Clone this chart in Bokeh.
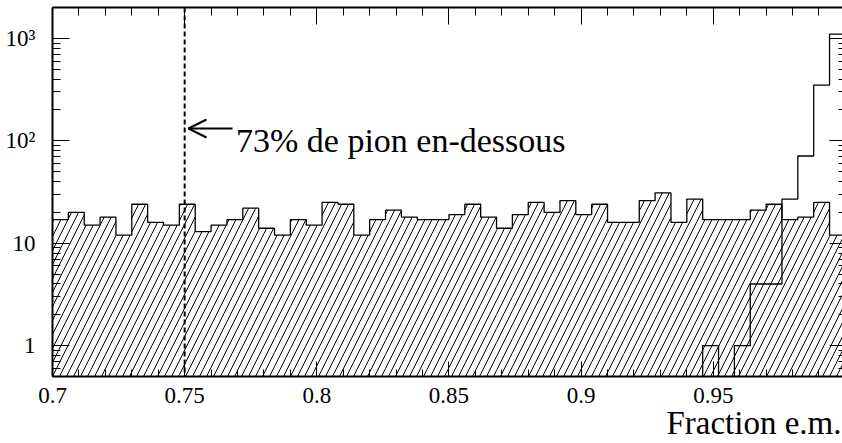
import numpy as np
from bokeh.plotting import figure
from bokeh.models import (LinearAxis, LogAxis, LogTicker, SingleIntervalTicker, Span,
                          Arrow, OpenHead, Label, NumeralTickFormatter, Range1d,
                          CustomJSTickFormatter, Title)
from bokeh.embed import file_html
from bokeh.resources import INLINE

# Binning: 50 bins of width 0.006 covering [0.7, 1.0]
bin_lo = 0.7
bin_width = 0.006
n_bins = 50

# Pion sample (hatched)
pion_counts = [17, 20, 15, 18, 12, 24, 16, 15, 24, 13,
               15, 17, 22, 14, 12, 17, 15, 25, 24, 12,
               17, 21, 18, 17, 17, 19, 24, 18, 14, 19,
               25, 20, 26, 19, 24, 16, 16, 26, 31, 16,
               27, 17, 17, 17, 21, 24, 17, 18, 25, 12]

# Electron sample (open outline)
electron_counts = [0] * 41 + [1, 0, 1, 4, 4, 27, 71, 350, 1100]

cut_value = 0.75
cut_text = "73% de pion en-dessous"
x_title = "Fraction e.m."
y_tick_labels = {1: "1", 10: "10", 100: "10\u00b2", 1000: "10\u00b3"}

# Canvas geometry
FIG_W, FIG_H = 842, 443
B_L, B_R, B_T, B_B = 52, 0, 7, 67
frame_w = FIG_W - B_L - B_R
frame_h = FIG_H - B_T - B_B
x_lo, x_hi = 0.7, 0.9989
y_lo, y_hi = 0.5, 2000.0
px_per_x = frame_w / (x_hi - x_lo)
ly_lo = np.log10(y_lo)
px_per_dec = frame_h / (np.log10(y_hi) - ly_lo)

FONT = "Liberation Serif"

edges = bin_lo + bin_width * np.arange(n_bins + 1)

p = figure(width=FIG_W, height=FIG_H, x_range=Range1d(x_lo, x_hi),
           y_range=Range1d(y_lo, y_hi), y_axis_type="log",
           output_backend="svg", toolbar_location=None,
           min_border_left=B_L, min_border_right=B_R,
           min_border_top=B_T, min_border_bottom=B_B)
p.outline_line_color = None
p.grid.visible = False
p.background_fill_color = "white"
p.border_fill_color = "white"

# Steep diagonal hatching of the pion histogram, built bin by bin in screen space
hatch_gap = 7.0     # horizontal distance between hatch lines (px)
hatch_slope = 2.0   # rise over run of each hatch line
hx, hy = [], []
for i, cnt in enumerate(pion_counts):
    if cnt <= 0:
        continue
    a = (edges[i] - x_lo) * px_per_x
    b = (edges[i + 1] - x_lo) * px_per_x
    if a >= frame_w:
        continue
    b = min(b, frame_w)
    top = (np.log10(cnt) - ly_lo) * px_per_dec
    k0 = int(np.floor((a - top / hatch_slope) / hatch_gap)) - 1
    k1 = int(np.ceil(b / hatch_gap)) + 1
    for k in range(k0, k1 + 1):
        c0 = k * hatch_gap
        y0 = max(0.0, (a - c0) * hatch_slope)
        y1 = min(top, (b - c0) * hatch_slope)
        if y1 <= y0:
            continue
        xa = c0 + y0 / hatch_slope
        xb = c0 + y1 / hatch_slope
        hx.append([x_lo + xa / px_per_x, x_lo + xb / px_per_x])
        hy.append([10 ** (ly_lo + y0 / px_per_dec), 10 ** (ly_lo + y1 / px_per_dec)])
p.multi_line(hx, hy, line_color="black", line_width=1)

# Histogram outlines
pion_y = list(pion_counts) + [pion_counts[-1]]
p.step(edges, pion_y, mode="after", line_color="black", line_width=1.3)

floor = 1e-3  # empty bins drop below the visible range
ele = [c if c > 0 else floor for c in electron_counts]
ele_y = ele + [ele[-1]]
p.step(edges, ele_y, mode="after", line_color="black", line_width=1.3)

# Axes
xa = p.xaxis[0]
xa.ticker = SingleIntervalTicker(interval=0.05, num_minor_ticks=5)
xa.formatter = NumeralTickFormatter(format="0.[00]")
ya = p.yaxis[0]
ya.ticker = LogTicker(num_minor_ticks=10)
ya.major_label_overrides = y_tick_labels

for ax in (xa, ya):
    ax.axis_line_width = 2
    ax.axis_line_color = "black"
    ax.major_tick_out = 0
    ax.minor_tick_out = 0
    ax.major_tick_in = 17
    ax.minor_tick_in = 8
    ax.major_tick_line_color = "black"
    ax.minor_tick_line_color = "black"
    ax.major_label_text_font = FONT
    ax.major_label_text_font_size = "23px"
    ax.major_label_text_color = "black"
xa.major_tick_in = 15
xa.minor_tick_in = 7
xa.major_label_standoff = 11
ya.major_label_standoff = 17

blank = CustomJSTickFormatter(code="return ''")
top_ax = LinearAxis(ticker=SingleIntervalTicker(interval=0.05, num_minor_ticks=5),
                    formatter=blank, axis_line_width=2, axis_line_color="black",
                    major_tick_in=17, minor_tick_in=8, major_tick_out=0, minor_tick_out=0,
                    major_label_standoff=0, major_label_text_font_size="1px")
p.add_layout(top_ax, "above")
right_ax = LogAxis(ticker=LogTicker(num_minor_ticks=10), formatter=blank,
                   axis_line_color=None, major_tick_in=13, minor_tick_in=4,
                   major_tick_out=0, minor_tick_out=0, major_label_standoff=0,
                   major_label_text_font_size="1px")
p.add_layout(right_ax, "right")

# Axis title at the lower right, below the tick labels
p.add_layout(Title(text=x_title, align="right", vertical_align="bottom",
                   standoff=-6, offset=1, text_font=FONT, text_font_size="33px",
                   text_font_style="normal", text_color="black"), "below")

# Cut position and annotation
p.add_layout(Span(location=cut_value, dimension="height", line_color="black",
                  line_width=2, line_dash="5 3"))
arrow_y = 10 ** (ly_lo + (FIG_H - B_B - 128) / px_per_dec)
p.add_layout(Arrow(end=OpenHead(size=18, line_width=2, line_color="black"),
                   x_start=x_lo + (232 - B_L) / px_per_x, y_start=arrow_y,
                   x_end=x_lo + (188 - B_L) / px_per_x, y_end=arrow_y,
                   line_width=2, line_color="black"))
text_y = 10 ** (ly_lo + (FIG_H - B_B - 140) / px_per_dec)
p.add_layout(Label(x=x_lo + (235.5 - B_L) / px_per_x, y=text_y, text=cut_text,
                   text_font=FONT, text_font_size="34px", text_color="black",
                   text_baseline="alphabetic", text_align="left"))

open("out.html", "w").write(file_html(p, INLINE))
